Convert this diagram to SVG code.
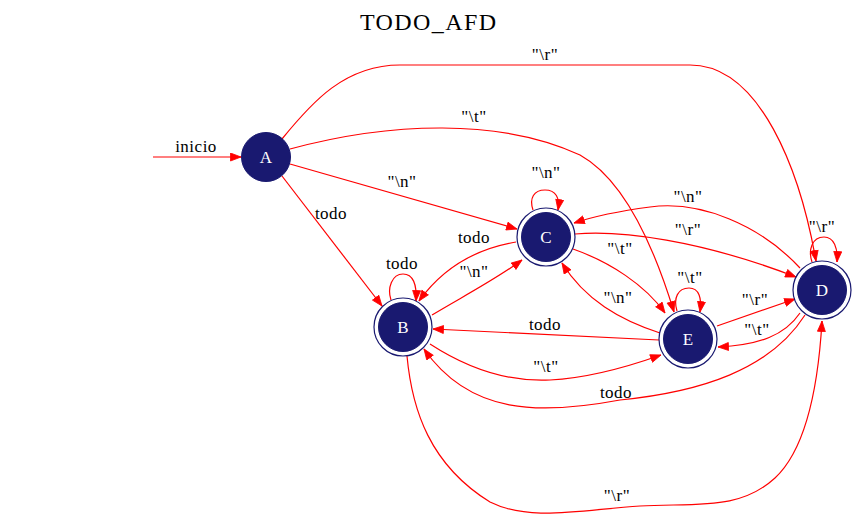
<svg xmlns="http://www.w3.org/2000/svg" width="858" height="521" viewBox="0 0 858 521">
<style>
.e{fill:none;stroke:#ff0000;stroke-width:1.2;marker-end:url(#ah)}
.lbl{font-family:"Liberation Serif","Times New Roman",serif;font-size:17px;fill:#000;text-anchor:middle;letter-spacing:0.5px}
.nt{font-family:"Liberation Serif","Times New Roman",serif;font-size:17px;fill:#fff;text-anchor:middle}
.fill{fill:#191970;stroke:#191970}
.ring{fill:none;stroke:#191970;stroke-width:1.2}
</style>
<defs>
<marker id="ah" markerUnits="userSpaceOnUse" markerWidth="12" markerHeight="10" refX="11" refY="4.5" orient="auto" viewBox="0 0 12 10">
<path d="M0.5,0.5 L11,4.5 L0.5,8.5 z" fill="#ff0000" stroke="#ff0000" stroke-width="0.8"/>
</marker>
</defs>
<rect width="858" height="521" fill="#ffffff"/>
<text x="428" y="30" font-family="'Liberation Serif','Times New Roman',serif" font-size="24" text-anchor="middle" textLength="136" lengthAdjust="spacing">TODO_AFD</text>
<g id="connectors">
<path class="e" d="M153,157 L241,157"/>
<path class="e" d="M282,139 C312,102 345,65 400,65 L690,65 C760,65 800,170 816,261"/>
<path class="e" d="M290,149 C390,122 500,118 580,155 C625,180 655,250 674,312"/>
<path class="e" d="M290,164 L517,229"/>
<path class="e" d="M282,176 L382,306"/>
<path class="e" d="M391,300 C387,288 392,274 403,274 C413,274 417,284 416,301"/>
<path class="e" d="M533,210 C529,198 534,190 545,190 C556,190 560,198 558,210"/>
<path class="e" d="M516,242 C480,248 445,265 419,301"/>
<path class="e" d="M432,315 C460,298 495,280 522,260"/>
<path class="e" d="M575,234 C620,230 700,240 796,277"/>
<path class="e" d="M573,249 C610,262 645,285 665,313"/>
<path class="e" d="M800,268 C760,225 700,200 650,207 C620,211 595,216 574,223"/>
<path class="e" d="M660,333 C620,320 585,300 562,263"/>
<path class="e" d="M659,340 L433,329"/>
<path class="e" d="M430,344 C470,370 510,382 550,380 C590,378 630,366 661,355"/>
<path class="e" d="M805,315 C770,370 700,392 620,400 C540,415 470,415 424,349"/>
<path class="e" d="M407,356 C412,410 430,465 490,502 C530,522 580,510 640,506 C700,503 740,510 775,478 C805,450 818,390 822,321"/>
<path class="e" d="M677,311 C673,298 678,288 689,288 C699,288 702,298 700,312"/>
<path class="e" d="M717,326 L795,299"/>
<path class="e" d="M800,313 C785,335 760,345 718,347"/>
<path class="e" d="M812,262 C808,250 812,237 824,237 C834,237 838,248 837,262"/>
</g>
<g id="labels">
<text class="lbl" x="196" y="152">inicio</text>
<text class="lbl" x="545" y="60">"\r"</text>
<text class="lbl" x="474" y="122">"\t"</text>
<text class="lbl" x="402" y="187">"\n"</text>
<text class="lbl" x="331" y="219">todo</text>
<text class="lbl" x="402" y="269">todo</text>
<text class="lbl" x="546" y="178">"\n"</text>
<text class="lbl" x="474" y="243">todo</text>
<text class="lbl" x="474" y="277">"\n"</text>
<text class="lbl" x="688" y="235">"\r"</text>
<text class="lbl" x="688" y="202">"\n"</text>
<text class="lbl" x="620" y="254">"\t"</text>
<text class="lbl" x="618" y="303">"\n"</text>
<text class="lbl" x="545" y="330">todo</text>
<text class="lbl" x="546" y="372">"\t"</text>
<text class="lbl" x="616" y="398">todo</text>
<text class="lbl" x="617" y="501">"\r"</text>
<text class="lbl" x="690" y="283">"\t"</text>
<text class="lbl" x="755" y="305">"\r"</text>
<text class="lbl" x="757" y="335">"\t"</text>
<text class="lbl" x="822" y="232">"\r"</text>
</g>
<g id="A"><circle class="fill" cx="266" cy="157" r="24.5"/><text class="nt" x="266" y="163">A</text></g>
<g id="B"><circle class="ring" cx="403" cy="327" r="29"/><circle class="fill" cx="403" cy="327" r="24.5"/><text class="nt" x="403" y="333">B</text></g>
<g id="C"><circle class="ring" cx="546" cy="237" r="29"/><circle class="fill" cx="546" cy="237" r="24.5"/><text class="nt" x="546" y="243">C</text></g>
<g id="E"><circle class="ring" cx="688" cy="339" r="29"/><circle class="fill" cx="688" cy="339" r="24.5"/><text class="nt" x="688" y="345">E</text></g>
<g id="D"><circle class="ring" cx="822" cy="290" r="29"/><circle class="fill" cx="822" cy="290" r="24.5"/><text class="nt" x="822" y="296">D</text></g>
</svg>
